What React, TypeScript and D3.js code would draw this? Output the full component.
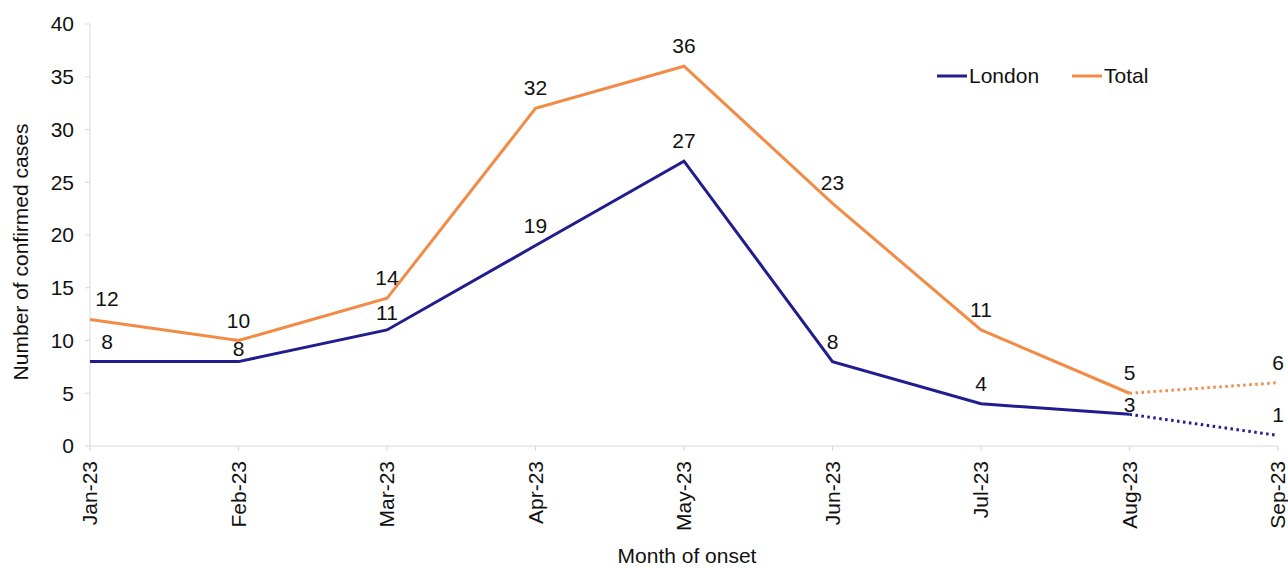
import * as d3 from "d3";

const months = ["Jan-23", "Feb-23", "Mar-23", "Apr-23", "May-23", "Jun-23", "Jul-23", "Aug-23", "Sep-23"];
const london = [8, 8, 11, 19, 27, 8, 4, 3, 1];
const total = [12, 10, 14, 32, 36, 23, 11, 5, 6];
const yTicks = [0, 5, 10, 15, 20, 25, 30, 35, 40];

// last month is provisional -> drawn dotted
const provisionalFrom = 7;

const W = 1288;
const H = 568;
const margin = { left: 90, right: 10, top: 24, bottom: 122 };
const font = "'Liberation Sans', Arial, sans-serif";
const axisColor = "#d9d9d9";
const fs = 21;

const series = [
  { name: "London", color: "#211d8e", values: london, nudge: [0, 7, 3, 0, 0, 0, 0, 11, 0] },
  { name: "Total", color: "#f28b45", values: total, nudge: [0, 0, 0, 0, 0, 0, 0, 0, 0] },
];

export default function App() {
  const x = d3
    .scalePoint<string>()
    .domain(months)
    .range([margin.left, W - margin.right]);
  const y = d3
    .scaleLinear()
    .domain([0, 40])
    .range([H - margin.bottom, margin.top]);

  const line = d3
    .line<[string, number]>()
    .x((d) => x(d[0]) as number)
    .y((d) => y(d[1]));

  const y0 = y(0);

  return (
    <div style={{ position: "absolute", left: 0, top: 0 }}>
      <svg width={W} height={H} style={{ display: "block", fontFamily: font }}>
        <rect width={W} height={H} fill="#fff" />
        {/* axes */}
        <line x1={margin.left} x2={margin.left} y1={y(40)} y2={y0} stroke={axisColor} />
        <line x1={margin.left} x2={W - margin.right} y1={y0} y2={y0} stroke={axisColor} />
        {yTicks.map((t) => (
          <g key={t}>
            <line x1={margin.left - 5} x2={margin.left} y1={y(t)} y2={y(t)} stroke={axisColor} />
            <text x={74} y={y(t)} dy="0.35em" textAnchor="end" fontSize={fs} fill="#111">
              {t}
            </text>
          </g>
        ))}
        {months.map((m) => (
          <g key={m}>
            <line x1={x(m)} x2={x(m)} y1={y0} y2={y0 + 5} stroke={axisColor} />
            <text
              transform={`translate(${x(m)},${y0 + 15}) rotate(-90)`}
              dy="0.35em"
              textAnchor="end"
              fontSize={fs}
              fill="#111"
            >
              {m}
            </text>
          </g>
        ))}
        <text
          transform={`translate(28,252) rotate(-90)`}
          textAnchor="middle"
          fontSize={fs}
          fill="#111"
        >
          Number of confirmed cases
        </text>
        <text x={687} y={563} textAnchor="middle" fontSize={fs} fill="#111">
          Month of onset
        </text>

        {/* lines */}
        {series.map((s) => {
          const pts = months.map((m, i) => [m, s.values[i]] as [string, number]);
          return (
            <g key={s.name}>
              <path d={line(pts.slice(0, provisionalFrom + 1)) || ""} fill="none" stroke={s.color} strokeWidth={3} />
              <path
                d={line(pts.slice(provisionalFrom)) || ""}
                fill="none"
                stroke={s.color}
                strokeWidth={3}
                strokeDasharray="2.5,3.5"
              />
            </g>
          );
        })}

        {/* data labels */}
        {series.map((s) =>
          months.map((m, i) => (
            <text
              key={s.name + m}
              x={(x(m) as number) + (i === 0 ? 17 : 0)}
              y={y(s.values[i]) - 13 + s.nudge[i]}
              textAnchor="middle"
              fontSize={fs}
              fill="#111"
            >
              {s.values[i]}
            </text>
          ))
        )}

        {/* legend */}
        {series.map((s, i) => {
          const lx = 937 + i * 135;
          return (
            <g key={s.name}>
              <line x1={lx} x2={lx + 30} y1={76} y2={76} stroke={s.color} strokeWidth={3} />
              <text x={lx + 32} y={76} dy="0.35em" fontSize={fs} fill="#111">
                {s.name}
              </text>
            </g>
          );
        })}
      </svg>
    </div>
  );
}
